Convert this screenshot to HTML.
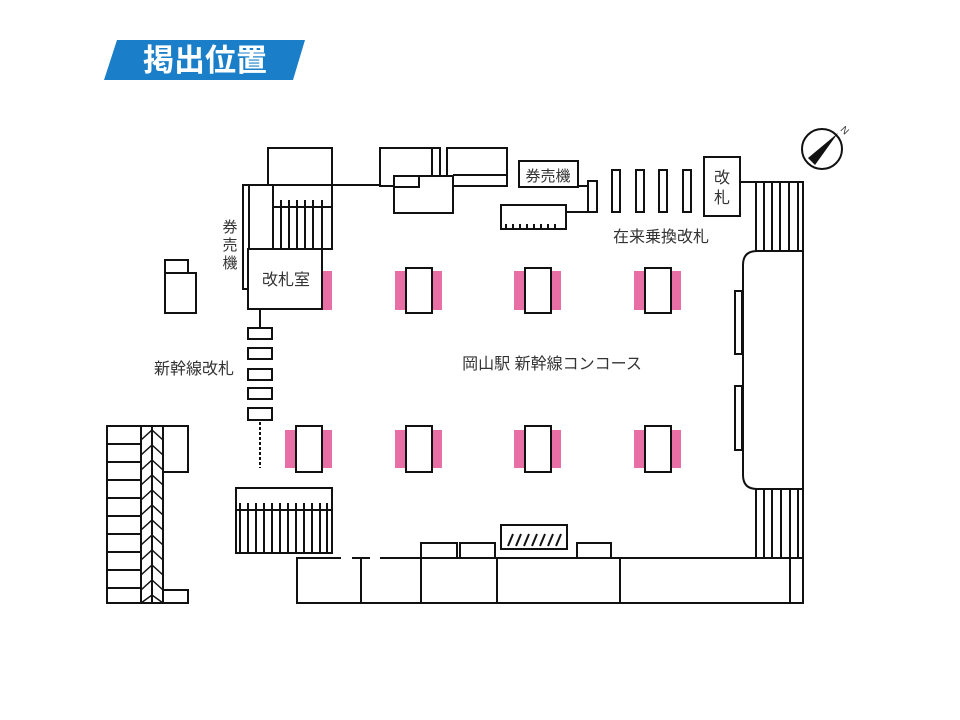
<!DOCTYPE html>
<html><head><meta charset="utf-8"><style>
html,body{margin:0;padding:0;background:#fff;}
svg{display:block;}
text{font-family:"Liberation Sans","Noto Sans CJK JP",sans-serif;fill:#333;}
</style></head><body>
<svg width="960" height="720" viewBox="0 0 960 720" xmlns="http://www.w3.org/2000/svg">
<polygon points="117,40 305,40 293,80 104,80" fill="#1a7fc8"/>
<text x="205" y="71" font-size="31" font-weight="bold" text-anchor="middle" style="fill:#fff">掲出位置</text>

<g fill="#e86fa6">
<rect x="322" y="271" width="10" height="39"/>
<rect x="395" y="271" width="47" height="39"/>
<rect x="514" y="271" width="47" height="39"/>
<rect x="634" y="271" width="47" height="39"/>
<rect x="285" y="430" width="47" height="38"/>
<rect x="395" y="430" width="47" height="38"/>
<rect x="514" y="430" width="47" height="38"/>
<rect x="634" y="430" width="47" height="38"/>
</g>

<g fill="#fff" stroke="#111" stroke-width="2">
<rect x="406" y="268" width="26" height="45"/>
<rect x="525" y="268" width="26" height="45"/>
<rect x="645" y="268" width="26" height="45"/>
<rect x="296" y="426" width="26" height="46"/>
<rect x="406" y="426" width="26" height="46"/>
<rect x="525" y="426" width="26" height="46"/>
<rect x="645" y="426" width="26" height="46"/>

<rect x="268" y="148" width="64" height="37"/>
<rect x="243" y="185" width="6" height="104"/>
<rect x="249" y="185" width="83" height="64"/>
<rect x="273" y="185" width="59" height="64"/>
<rect x="248" y="249" width="74" height="60"/>
<rect x="165" y="260" width="23" height="53"/>
<rect x="165" y="273" width="31" height="40"/>

<rect x="380" y="148" width="52" height="38"/>
<rect x="432" y="148" width="8" height="38"/>
<rect x="447" y="148" width="60" height="38"/>
<rect x="394" y="176" width="59" height="37"/>
<rect x="394" y="176" width="25" height="11"/>
<rect x="519" y="161" width="59" height="26"/>
<rect x="501" y="205" width="65" height="24"/>
<rect x="588" y="181" width="9" height="31"/>
<rect x="612" y="170" width="8" height="42"/>
<rect x="636" y="170" width="8" height="42"/>
<rect x="659" y="170" width="8" height="42"/>
<rect x="683" y="170" width="8" height="42"/>
<rect x="704" y="157" width="36" height="59"/>

<rect x="756" y="182" width="47" height="70"/>
<path d="M803,251 H757 Q743,251 743,265 V475 Q743,489 757,489 H803 Z"/>
<rect x="735" y="291" width="7" height="63"/>
<rect x="735" y="386" width="7" height="64"/>
<rect x="756" y="489" width="47" height="69"/>

<rect x="297" y="558" width="506" height="45"/>
<rect x="421" y="543" width="36" height="15"/>
<rect x="460" y="543" width="35" height="15"/>
<rect x="577" y="543" width="34" height="15"/>
<rect x="501" y="525" width="66" height="24"/>
<rect x="236" y="488" width="96" height="65"/>

<rect x="248" y="328" width="24" height="11"/>
<rect x="248" y="348" width="24" height="11"/>
<rect x="248" y="369" width="24" height="11"/>
<rect x="248" y="388" width="24" height="11"/>
<rect x="248" y="408" width="24" height="12"/>

<rect x="107" y="426" width="34" height="177"/>
<rect x="141" y="426" width="22" height="177"/>
<rect x="163" y="426" width="25" height="46"/>
<rect x="163" y="590" width="25" height="13"/>
</g>

<g stroke="#111" stroke-width="2" fill="none">
<line x1="332" y1="185" x2="380" y2="185"/>
<line x1="453" y1="175" x2="507" y2="175"/>
<line x1="578" y1="186" x2="588" y2="186"/>
<line x1="566" y1="212" x2="588" y2="212"/>
<line x1="740" y1="182" x2="756" y2="182"/>
<line x1="273" y1="207" x2="332" y2="207"/>
<path d="M281,200V249M289,200V249M297,200V249M305,200V249M313,200V249M322,200V249"/>
<path d="M764,182V252M772,182V252M780,182V252M789,182V252M798,182V252"/>
<path d="M764,489V558M772,489V558M781,489V558M790,489V558M798,489V558"/>
<path d="M506,224V229M513,224V229M520,224V229M527,224V229M534,224V229M541,224V229M548,224V229M555,224V229"/>
<line x1="260" y1="309" x2="260" y2="328"/>
<line x1="236" y1="510" x2="332" y2="510"/>
<path d="M240,503V553M248,503V553M256,503V553M264,503V553M272,503V553M280,503V553M288,503V553M296,503V553M304,503V553M312,503V553M320,503V553M327,503V553"/>
<path d="M361,558V603M421,558V603M497,558V603M620,558V603M790,558V603"/>
<path d="M508,546L513,534M516,546L521,534M524,546L529,534M532,546L537,534M540,546L545,534M548,546L553,534M556,546L561,534"/>
<path d="M107,444H141M107,462H141M107,480H141M107,498H141M107,516H141M107,534H141M107,552H141M107,570H141M107,588H141"/>
<line x1="152" y1="426" x2="152" y2="603"/>
<path d="M141,440 L152,430 L163,440 M141,455 L152,445 L163,455 M141,470 L152,460 L163,470 M141,485 L152,475 L163,485 M141,500 L152,490 L163,500 M141,515 L152,505 L163,515 M141,530 L152,520 L163,530 M141,545 L152,535 L163,545 M141,560 L152,550 L163,560 M141,575 L152,565 L163,575 M141,590 L152,580 L163,590 M141,603 L152,595 L163,603" stroke-width="1.5"/>
<line x1="260" y1="422" x2="260" y2="468" stroke-dasharray="3,2"/>
</g>
<g fill="#fff"><rect x="341" y="555" width="11" height="6"/><rect x="370" y="555" width="10" height="6"/></g>
<line x1="361" y1="557" x2="361" y2="560" stroke="#111" stroke-width="2"/>

<circle cx="822" cy="149" r="20" fill="#fff" stroke="#111" stroke-width="2"/>
<polygon points="838,133 808,158 815,165" fill="#111"/>
<text x="842" y="131" font-size="10" transform="rotate(45 842 128)">N</text>

<text x="262" y="285" font-size="16">改札室</text>
<text x="548" y="181" font-size="15" text-anchor="middle">券売機</text>
<text x="230" y="232" font-size="15" text-anchor="middle">券</text>
<text x="230" y="250" font-size="15" text-anchor="middle">売</text>
<text x="230" y="268" font-size="15" text-anchor="middle">機</text>
<text x="722" y="183" font-size="16" text-anchor="middle">改</text>
<text x="722" y="203" font-size="16" text-anchor="middle">札</text>
<text x="661" y="242" font-size="16" text-anchor="middle">在来乗換改札</text>
<text x="194" y="374" font-size="16" text-anchor="middle">新幹線改札</text>
<text x="552" y="369" font-size="16" text-anchor="middle">岡山駅 新幹線コンコース</text>
</svg>
</body></html>
